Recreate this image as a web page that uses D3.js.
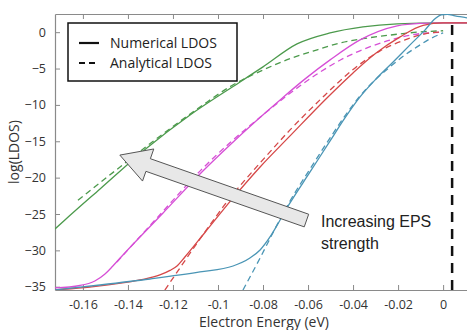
<!DOCTYPE html>
<html>
<head>
<meta charset="utf-8">
<script src="https://cdn.jsdelivr.net/npm/d3@7"></script>
<style>
  html, body { margin: 0; padding: 0; background: #fff; }
  svg { display: block; }
</style>
</head>
<body>
<div id="chart"></div>
<script>
const W = 467, H = 330;
const margin = {left: 55, top: 14, right: -2, bottom: 40};
const labelFont = "Open Sans, sans-serif";

const xTicks = [-0.16, -0.14, -0.12, -0.1, -0.08, -0.06, -0.04, -0.02, 0];
const yTicks = [0, -5, -10, -15, -20, -25, -30, -35];

// [energy (eV), log(LDOS)]
const greenSolid = [[-0.1724, -27.06], [-0.168, -25.82], [-0.1524, -21.55], [-0.1316, -15.91], [-0.1124, -11.38],
  [-0.0902, -6.84], [-0.08, -4.77], [-0.0649, -1.61], [-0.0502, -0.1], [-0.0356, 0.73], [-0.0204, 1.14],
  [0, 1.28], [0.0115, 1.28]];
const greenDashed = [[-0.1622, -23.1], [-0.1413, -18.0], [-0.1258, -14.3], [-0.108, -10.3], [-0.0947, -7.5],
  [-0.08, -5.2], [-0.0667, -3.5], [-0.0578, -2.6], [-0.0458, -1.5], [-0.0356, -0.9], [-0.0236, -0.4],
  [-0.0116, 0.0], [0, 0.2]];
const magentaSolid = [[-0.1729, -35.17], [-0.1613, -34.83], [-0.1547, -34.21], [-0.1502, -33.25], [-0.1467, -32.15],
  [-0.1422, -30.63], [-0.1244, -24.86], [-0.1067, -19.08], [-0.0947, -15.5], [-0.0836, -12.34], [-0.0724, -9.31],
  [-0.0613, -6.42], [-0.0502, -3.81], [-0.0369, -1.06], [-0.0204, 0.87], [-0.0102, 1.21], [0, 1.28], [0.0115, 1.28]];
const magentaDashed = [[-0.1449, -31.6], [-0.1258, -25.1], [-0.108, -19.1], [-0.0947, -15.2], [-0.0813, -11.7],
  [-0.068, -8.4], [-0.0547, -5.5], [-0.0436, -3.5], [-0.0324, -2.0], [-0.0213, -0.9], [-0.0102, -0.2], [0, 0.0]];
const redSolid = [[-0.1729, -35.45], [-0.1569, -35.04], [-0.1347, -34.07], [-0.1258, -33.38], [-0.1213, -32.76],
  [-0.1182, -32.15], [-0.1147, -30.91], [-0.1058, -27.54], [-0.0933, -22.79], [-0.0813, -18.53], [-0.068, -14.26],
  [-0.0516, -9.04], [-0.04, -5.6], [-0.0302, -2.98], [-0.0191, -0.65], [-0.0089, 0.94], [0, 1.28], [0.0115, 1.28]];
const redDashed = [[-0.1236, -35.45], [-0.1169, -32.42], [-0.108, -28.43], [-0.1013, -25.54], [-0.0947, -22.79],
  [-0.088, -20.32], [-0.0813, -17.98], [-0.068, -13.44], [-0.0547, -9.31], [-0.0391, -4.91], [-0.028, -2.57],
  [-0.0169, -1.06], [-0.008, -0.23], [0, 0.04]];
const blueSolid = [[-0.1729, -35.45], [-0.1524, -34.76], [-0.1302, -33.94], [-0.108, -32.97], [-0.0933, -32.15],
  [-0.0858, -31.05], [-0.0813, -29.95], [-0.0769, -28.16], [-0.0724, -25.82], [-0.068, -23.48], [-0.0591, -19.22],
  [-0.0502, -14.95], [-0.0436, -11.79], [-0.0369, -8.9], [-0.0302, -6.56], [-0.0222, -4.09], [-0.0147, -1.75],
  [-0.008, 0.32], [-0.0036, 1.83], [-0.0009, 2.38], [0.0018, 2.45], [0.0053, 2.24], [0.0107, 1.97]];
const blueDashed = [[-0.0889, -35.45], [-0.0813, -31.05], [-0.0738, -26.51], [-0.068, -23.21], [-0.0591, -18.8],
  [-0.0502, -14.54], [-0.0436, -11.51], [-0.0369, -8.76], [-0.0302, -6.56], [-0.0236, -4.77], [-0.0169, -3.12],
  [-0.0116, -2.02], [-0.0058, -0.92], [0, -0.1]];

const series = [
  {data: greenSolid, color: "#4c9a4c", dashed: false},
  {data: greenDashed, color: "#4c9a4c", dashed: true},
  {data: magentaSolid, color: "#d64fd6", dashed: false},
  {data: magentaDashed, color: "#d64fd6", dashed: true},
  {data: redSolid, color: "#d64848", dashed: false},
  {data: redDashed, color: "#d64848", dashed: true},
  {data: blueSolid, color: "#4a95b5", dashed: false},
  {data: blueDashed, color: "#4a95b5", dashed: true},
];

const fermiLine = [[0.004, -35.45], [0.004, 1.5]];
const arrowTip = [-0.1436, -16.9];
const arrowTail = [-0.0607, -25.9];

const x = d3.scaleLinear().domain([-0.1724, 0.0115]).range([margin.left, W - margin.right]);
const y = d3.scaleLinear().domain([-35.45, 2.5]).range([H - margin.bottom, margin.top]);

const svg = d3.select("#chart").append("svg").attr("width", W).attr("height", H);

svg.append("defs").append("clipPath").attr("id", "plot")
  .append("rect")
  .attr("x", x.range()[0]).attr("y", y.range()[1])
  .attr("width", x.range()[1] - x.range()[0]).attr("height", y.range()[0] - y.range()[1]);

const fmtX = d => d === 0 ? "0" : String(+d.toFixed(2));

// axes (MATLAB style, ticks inward)
const axBottom = svg.append("g").attr("transform", `translate(0,${y.range()[0]})`)
  .call(d3.axisBottom(x).tickValues(xTicks).tickFormat(fmtX).tickSizeInner(-5).tickSizeOuter(0).tickPadding(10));
const axTop = svg.append("g").attr("transform", `translate(0,${y.range()[1]})`)
  .call(d3.axisTop(x).tickValues(xTicks).tickFormat("").tickSizeInner(-5).tickSizeOuter(0));
const axLeft = svg.append("g").attr("transform", `translate(${x.range()[0]},0)`)
  .call(d3.axisLeft(y).tickValues(yTicks).tickSizeInner(-5).tickSizeOuter(0).tickPadding(9));

for (const a of [axBottom, axTop, axLeft]) {
  a.select(".domain").attr("stroke", "#8a8a8a").attr("stroke-width", 1.2);
  a.selectAll(".tick line").attr("stroke", "#8a8a8a");
  a.selectAll(".tick text").attr("font-family", labelFont).attr("font-size", 12.5).attr("fill", "#333");
}

const plot = svg.append("g").attr("clip-path", "url(#plot)");
const line = d3.line().x(d => x(d[0])).y(d => y(d[1])).curve(d3.curveMonotoneX);

for (const s of series) {
  plot.append("path")
    .attr("d", line(s.data))
    .attr("fill", "none")
    .attr("stroke", s.color)
    .attr("stroke-width", 1.3)
    .attr("stroke-dasharray", s.dashed ? "6,4" : null);
}

plot.append("path")
  .attr("d", d3.line().x(d => x(d[0])).y(d => y(d[1]))(fermiLine))
  .attr("stroke", "#111").attr("stroke-width", 2.5).attr("stroke-dasharray", "10,7").attr("fill", "none");

// arrow annotation
{
  const [tx, ty] = [x(arrowTip[0]), y(arrowTip[1])];
  const [sx, sy] = [x(arrowTail[0]), y(arrowTail[1])];
  const len = Math.hypot(tx - sx, ty - sy);
  const ux = (tx - sx) / len, uy = (ty - sy) / len;
  const nx = -uy, ny = ux;
  const hw = 6.7, headW = 17, headL = 30;
  const bx = tx - ux * headL, by = ty - uy * headL;
  const pts = [
    [sx + nx * hw, sy + ny * hw],
    [bx + nx * hw, by + ny * hw],
    [bx + nx * headW, by + ny * headW],
    [tx, ty],
    [bx - nx * headW, by - ny * headW],
    [bx - nx * hw, by - ny * hw],
    [sx - nx * hw, sy - ny * hw],
  ];
  svg.append("polygon")
    .attr("points", pts.map(p => p.join(",")).join(" "))
    .attr("fill", "#e8e8e8").attr("stroke", "#555").attr("stroke-width", 1);
}

const noteFont = "Liberation Sans, Arial, sans-serif";
svg.append("text").attr("x", 321).attr("y", 227).attr("font-family", noteFont)
  .attr("font-size", 16).attr("fill", "#222").text("Increasing EPS");
svg.append("text").attr("x", 321).attr("y", 249).attr("font-family", noteFont)
  .attr("font-size", 16).attr("fill", "#222").text("strength");

// legend
const legend = svg.append("g");
legend.append("rect").attr("x", 68).attr("y", 23).attr("width", 169).attr("height", 58)
  .attr("fill", "#fff").attr("stroke", "#111").attr("stroke-width", 1.5);
const legendItems = [{label: "Numerical LDOS", dashed: false}, {label: "Analytical LDOS", dashed: true}];
legendItems.forEach((d, i) => {
  const ly = 43 + i * 20;
  legend.append("line").attr("x1", 79).attr("x2", 99).attr("y1", ly).attr("y2", ly)
    .attr("stroke", "#111").attr("stroke-width", 2.2).attr("stroke-dasharray", d.dashed ? "6,4" : null);
  legend.append("text").attr("x", 110).attr("y", ly + 5).attr("font-family", labelFont)
    .attr("font-size", 14).attr("fill", "#222").text(d.label);
});

svg.append("text").attr("x", 264).attr("y", 327).attr("text-anchor", "middle").attr("font-family", labelFont)
  .attr("font-size", 14).attr("fill", "#333").text("Electron Energy (eV)");
svg.append("text").attr("transform", "translate(19,152) rotate(-90)").attr("text-anchor", "middle")
  .attr("font-family", labelFont).attr("font-size", 14).attr("fill", "#333").text("log(LDOS)");
</script>
</body>
</html>
